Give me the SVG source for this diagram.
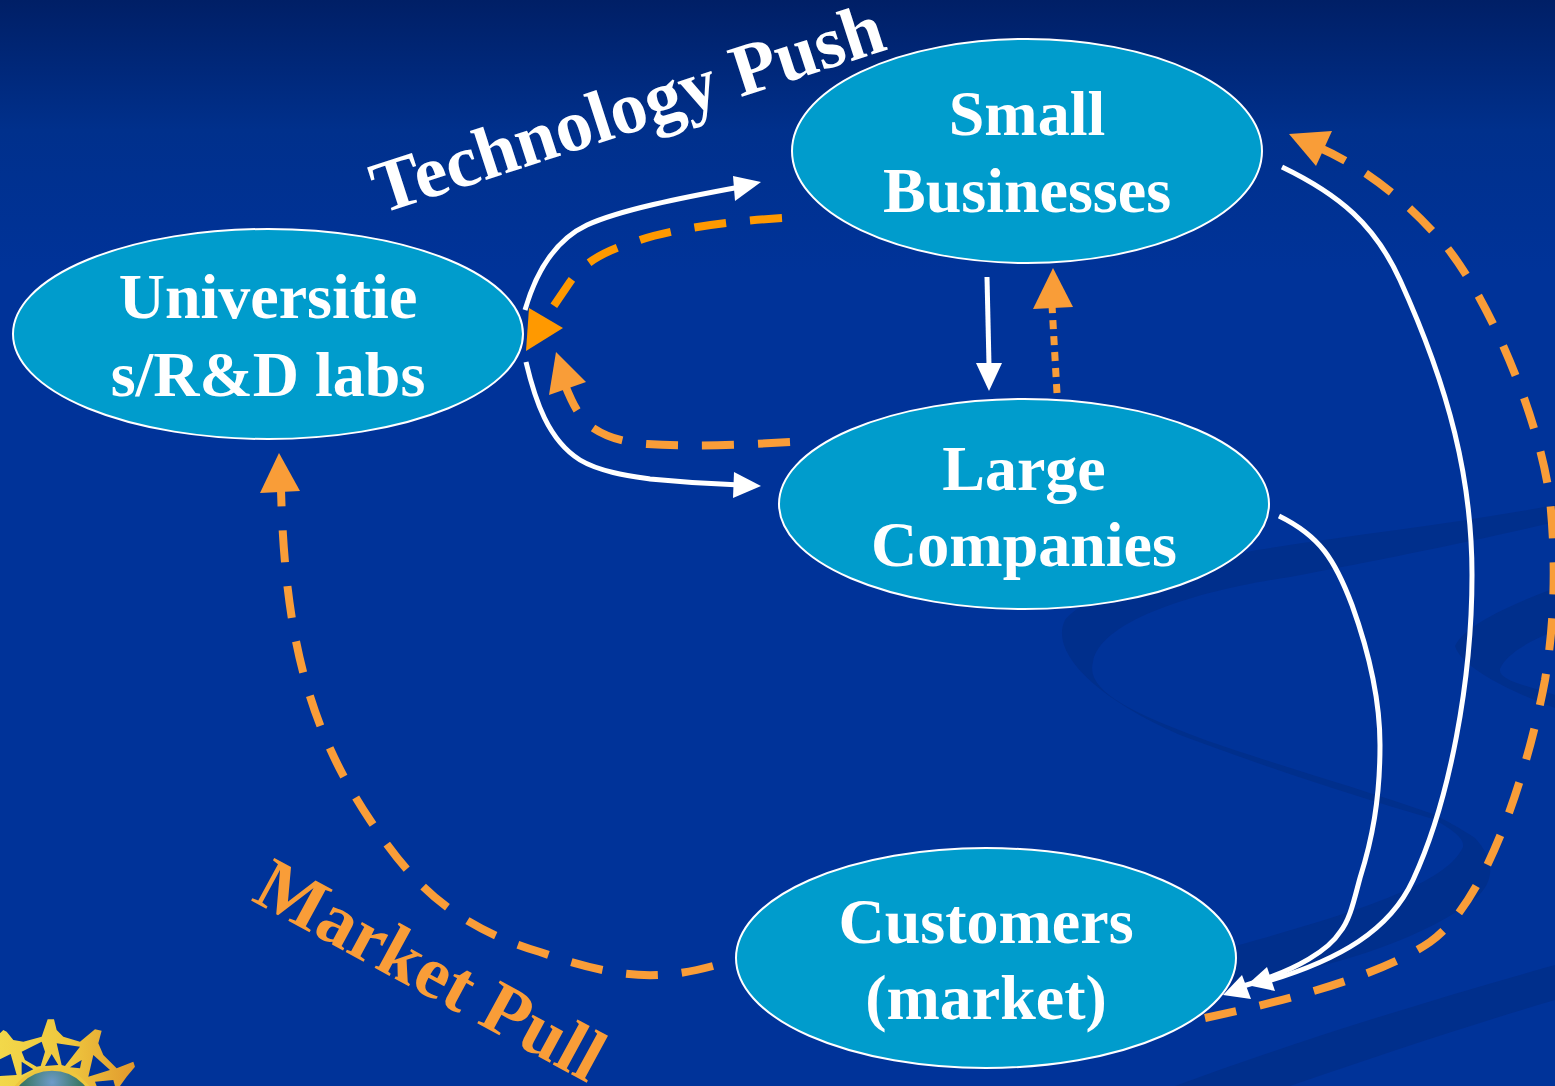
<svg xmlns="http://www.w3.org/2000/svg" width="1555" height="1086" viewBox="0 0 1555 1086">
<style>
.n{fill:#009ccc;stroke:#fff;stroke-width:2}
.t{font-family:"Liberation Serif","Times New Roman",serif;font-weight:700;font-size:64px;fill:#fff;text-anchor:middle}
.w{fill:none;stroke:#fff;stroke-width:5}
.o{fill:none;stroke:#f99d38;stroke-width:8}
.o2{fill:none;stroke:#ff9900;stroke-width:8}
.sw{fill:#002f8c}
</style>
<defs>
<linearGradient id="bg" x1="0" y1="0" x2="0" y2="1"><stop offset="0" stop-color="#001f66"/><stop offset="0.12" stop-color="#00308c"/><stop offset="0.25" stop-color="#003399"/><stop offset="1" stop-color="#003399"/></linearGradient>
<linearGradient id="gold" gradientUnits="userSpaceOnUse" x1="0" y1="0" x2="420" y2="0"><stop offset="0" stop-color="#f2d84a"/><stop offset="0.5" stop-color="#eec63e"/><stop offset="1" stop-color="#e0952c"/></linearGradient>
<radialGradient id="globe" cx="0.5" cy="0.15" r="0.6"><stop offset="0" stop-color="#6d9bc9"/><stop offset="0.5" stop-color="#3d7a6b"/><stop offset="1" stop-color="#1e4f6e"/></radialGradient>
</defs>
<rect width="1555" height="1086" fill="url(#bg)"/>
<g id="swoosh">
<path class="sw" d="M1555 505C1450 525 1350 535 1257 550C1180 565 1090 590 1065 620C1050 650 1090 695 1180 735C1260 765 1350 795 1433 819C1450 828 1465 838 1463 847C1450 875 1400 901 1235 946L1230 985C1300 975 1420 945 1477 897C1495 880 1495 860 1475 838C1460 828 1445 820 1433 814C1350 785 1260 760 1200 738C1130 712 1085 690 1093 662C1100 620 1200 590 1290 577C1380 560 1480 540 1555 522Z"/>
<path class="sw" d="M1555 588C1510 605 1465 625 1455 646C1462 670 1520 695 1555 708L1555 695C1525 685 1498 680 1500 669C1505 655 1530 640 1555 631Z"/>
<path class="sw" d="M1555 965C1430 1000 1300 1040 1175 1086L1290 1086C1380 1055 1470 1025 1555 1000Z"/>
</g>
<g id="logo" transform="translate(0 980) scale(.3333)">
<path fill="url(#gold)" fill-rule="evenodd" d="M0 160L10 150L20 155L40 180L70 185L125 170L143 118L162 118L170 150L190 170L240 185L285 148L305 152L295 190L310 225L350 265L400 245L405 260L380 290L360 318L0 318Z
M0 238L32 222L50 285L0 288Z
M65 215L125 185L135 215L122 258L110 260L75 240Z
M65 245L100 268L65 285Z
M155 222L175 255L135 258Z
M170 190L240 200L195 258L185 255Z
M245 240L240 265L210 262Z
M280 225L330 270L265 290Z
M285 305L340 300L345 318L290 318Z"/>
<circle cx="156" cy="401" r="134" fill="url(#globe)" stroke="#eec63e" stroke-width="10"/>
</g>
<g id="connectors">
<path class="w" d="M525 310C536 272 555 240 587 225C620 210 680 198 740 187"/>
<path d="M733 176L761 182L735 201Z" fill="#fff"/>
<path class="o2" stroke-dasharray="32 24" d="M782 218C720 222 670 230 640 240C610 249 585 260 570 282L553 307"/>
<path d="M529 308L563 328L526 351Z" fill="#ff9900"/>
<path class="o" stroke-dasharray="32 24" d="M790 442C740 445 690 447 647 444C620 442 605 436 593 428C582 420 575 410 565 385"/>
<path d="M556 352L586 382L549 395Z" fill="#f99d38"/>
<path class="w" d="M526 362C535 400 548 440 580 460C600 472 630 476 650 479C680 482 710 484 740 485"/>
<path d="M734 472L761 486L733 498Z" fill="#fff"/>
<path class="w" d="M987 277L989 365"/>
<path d="M976 363L1002 363L989 391Z" fill="#fff"/>
<path d="M1057 393L1052 305" fill="none" stroke="#f99d38" stroke-width="7" stroke-dasharray="9 7"/>
<path d="M1033 309L1053 268L1073 307Z" fill="#f99d38"/>
<path class="w" d="M1282 167C1340 195 1375 225 1400 280C1450 390 1472 480 1472 575C1472 680 1450 800 1413 880C1390 930 1340 960 1265 982"/>
<path d="M1267 967L1247 985L1275 991Z" fill="#fff"/>
<path class="w" d="M1279 516C1320 536 1335 560 1352 605C1370 655 1380 700 1380 745C1380 800 1372 840 1360 878C1354 900 1350 920 1340 932C1330 948 1300 970 1240 987"/>
<path d="M1242 975L1223 995L1251 999Z" fill="#fff"/>
<path class="o" stroke-dasharray="32 24" d="M1205 1018C1290 1000 1382 975 1430 942C1490 900 1530 760 1545 680C1555 620 1556 560 1550 500C1540 420 1490 300 1445 245C1410 205 1370 170 1318 147"/>
<path d="M1289 134L1332 131L1316 166Z" fill="#f99d38"/>
<path class="o" stroke-dasharray="32 24" d="M713 966C660 980 620 980 540 952C450 925 410 880 370 820C310 730 285 640 281 490"/>
<path d="M260 493L279 453L300 491Z" fill="#f99d38"/>
</g>
<g id="universities"><ellipse class="n" cx="268" cy="334" rx="255" ry="105"/><text class="t" x="268" y="318">Universitie</text><text class="t" x="268" y="396">s/R&amp;D labs</text></g>
<g id="small-businesses"><ellipse class="n" cx="1027" cy="151" rx="235" ry="112"/><text class="t" x="1027" y="135">Small</text><text class="t" x="1027" y="212">Businesses</text></g>
<g id="large-companies"><ellipse class="n" cx="1024" cy="504" rx="245" ry="105"/><text class="t" x="1024" y="490">Large</text><text class="t" x="1024" y="566">Companies</text></g>
<g id="customers"><ellipse class="n" cx="986" cy="958" rx="250" ry="110"/><text class="t" x="986" y="943">Customers</text><text class="t" x="986" y="1019">(market)</text></g>
<g id="labels">
<text transform="translate(381 214) rotate(-18)" font-family="Liberation Serif,serif" font-weight="700" font-size="74" fill="#fff">Technology Push</text>
<text transform="translate(250 900) rotate(28.5)" font-family="Liberation Serif,serif" font-weight="700" font-size="74" fill="#f99d38">Market Pull</text>
</g>
</svg>
